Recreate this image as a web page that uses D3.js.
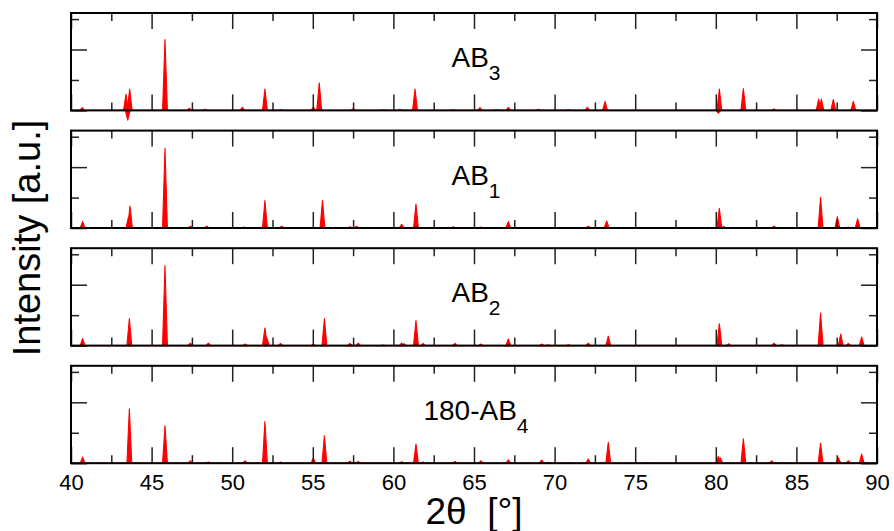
<!DOCTYPE html>
<html><head><meta charset="utf-8">
<script src="https://cdn.jsdelivr.net/npm/d3@7/dist/d3.min.js"></script>
<style>
body{margin:0;background:#fff}
svg{display:block}
text{font-family:"Liberation Sans",Arial,Helvetica,sans-serif;fill:#000}
</style>
</head><body>
<svg id="chart" width="894" height="531"></svg>
<script>
// ---- data (2θ in degrees, intensity in a.u.) ----
const labelMain = ["AB", "AB", "AB", "180-AB"];
const labelSub  = ["3", "1", "2", "4"];
const xMajorTicks = [40, 45, 50, 55, 60, 65, 70, 75, 80, 85, 90];
const xMinorTicks = [42.5, 47.5, 52.5, 57.5, 62.5, 67.5, 72.5, 77.5, 82.5, 87.5];
const yMajorTicks = [0, 2];
const yMinorTicks = [1, 3];

const peaksAB3 = [
  [40.70,0.09],[43.41,0.53],[43.52,-0.32],[43.64,0.70],[45.83,2.33],[47.34,0.07],[48.30,0.04],
  [50.63,0.10],[52.03,0.70],[53.00,0.03],[55.03,0.10],[55.40,0.91],[57.50,0.06],[59.40,0.02],
  [60.40,0.04],[61.34,0.70],[63.70,0.02],[65.37,0.09],[66.40,0.02],[67.13,0.10],[68.99,0.04],
  [70.85,0.03],[72.03,0.10],[73.13,0.30],[80.16,-0.09],[80.22,0.70],[81.71,0.72],[83.60,0.05],
  [86.38,0.37],[86.55,0.37],[87.29,0.36],[88.53,0.30]
];
const peaksAB1 = [
  [40.72,0.21],[43.56,0.35],[43.66,0.72],[45.83,2.62],[47.40,0.06],[48.42,0.06],[50.73,0.03],
  [52.03,0.90],[53.07,0.06],[55.60,0.90],[57.30,0.04],[57.72,0.06],[60.51,0.12],[61.40,0.79],
  [63.72,0.04],[65.43,0.03],[67.13,0.21],[72.09,0.06],[73.23,0.23],[80.22,0.65],[80.50,0.05],
  [83.61,0.06],[86.50,1.01],[87.54,0.37],[88.22,0.03],[88.80,0.30]
];
const peaksAB2 = [
  [40.72,0.23],[43.62,0.89],[45.83,2.63],[47.40,0.08],[48.52,0.08],[50.80,0.05],[52.03,0.58],
  [52.15,0.25],[53.00,0.07],[55.03,0.04],[55.72,0.89],[57.30,0.07],[57.82,0.08],[59.37,0.02],
  [60.51,0.08],[60.65,0.06],[61.40,0.82],[61.84,0.07],[63.82,0.07],[65.43,0.05],[67.13,0.22],
  [69.20,0.05],[69.60,0.03],[70.85,0.03],[72.09,0.08],[73.33,0.31],[80.22,0.72],[80.80,0.06],
  [83.61,0.08],[84.10,0.03],[86.50,1.07],[87.75,0.38],[88.22,0.07],[89.05,0.28]
];
const peaksAB4 = [
  [40.72,0.20],[43.62,1.79],[45.83,1.23],[47.40,0.08],[48.52,0.04],[50.80,0.08],[52.03,1.37],
  [53.00,0.04],[55.03,0.16],[55.72,0.90],[57.30,0.07],[57.82,0.06],[60.51,0.05],[61.40,0.63],
  [61.84,0.04],[63.82,0.06],[65.43,0.08],[67.13,0.11],[69.20,0.10],[69.60,0.03],[70.85,0.02],
  [72.09,0.14],[73.33,0.69],[75.71,0.02],[80.16,0.22],[80.28,0.18],[81.71,0.80],
  [83.47,0.08],[84.10,0.02],[86.50,0.66],[87.60,0.19],[88.22,0.08],[89.05,0.30]
];
const seriesPeaks = [peaksAB3, peaksAB1, peaksAB2, peaksAB4];

// ---- layout ----
const svg = d3.select("#chart");
const left = 71, right = 877;
const panelTop0 = 13, panelStep = 117.6, panelH = 97.4;
const halfWidth = 0.15; // peak half-width in degrees (style)

const x = d3.scaleLinear().domain([40, 90]).range([left, right]);

seriesPeaks.forEach((peaks, i) => {
  const top = panelTop0 + i * panelStep;
  const bottom = top + panelH;
  const y = d3.scaleLinear().domain([0, 3.2]).range([bottom, top]);
  const g = svg.append("g");

  // baseline
  g.append("line")
    .attr("x1", x(40)).attr("x2", x(90))
    .attr("y1", y(0)).attr("y2", y(0))
    .attr("stroke", "#ff0000").attr("stroke-width", 1.2);

  // peaks
  g.selectAll("path.peak").data(peaks).enter().append("path")
    .attr("class", "peak")
    .attr("d", d => `M${x(d[0]-halfWidth)},${y(0)}L${x(d[0])},${y(d[1])}L${x(d[0]+halfWidth)},${y(0)}Z`)
    .attr("fill", "#ff0000")
    .attr("stroke", "#ff0000")
    .attr("stroke-width", 1.1)
    .attr("stroke-linejoin", "round");

  // axes (inward ticks)
  const addAxis = (axis, tx, ty) => {
    const a = g.append("g").attr("transform", `translate(${tx},${ty})`).call(axis);
    a.select(".domain").remove();
    a.selectAll(".tick line").attr("stroke", "#222").attr("stroke-width", 1.5);
    return a;
  };
  const showLabels = i === seriesPeaks.length - 1;
  const bAx = addAxis(d3.axisBottom(x).tickValues(xMajorTicks).tickSize(-16)
      .tickFormat(showLabels ? d3.format("d") : () => "").tickPadding(11), 0, bottom);
  bAx.attr("font-size", null).attr("font-family", null);
  bAx.selectAll("text").style("font-size", "22px");
  addAxis(d3.axisBottom(x).tickValues(xMinorTicks).tickSize(-8).tickFormat(() => ""), 0, bottom);
  addAxis(d3.axisTop(x).tickValues(xMajorTicks).tickSize(-16).tickFormat(() => ""), 0, top);
  addAxis(d3.axisTop(x).tickValues(xMinorTicks).tickSize(-8).tickFormat(() => ""), 0, top);
  addAxis(d3.axisLeft(y).tickValues(yMajorTicks).tickSize(-16).tickFormat(() => ""), left, 0);
  addAxis(d3.axisLeft(y).tickValues(yMinorTicks).tickSize(-8).tickFormat(() => ""), left, 0);
  addAxis(d3.axisRight(y).tickValues(yMajorTicks).tickSize(-16).tickFormat(() => ""), right, 0);
  addAxis(d3.axisRight(y).tickValues(yMinorTicks).tickSize(-8).tickFormat(() => ""), right, 0);

  // frame
  g.append("rect")
    .attr("x", left).attr("y", top)
    .attr("width", right - left).attr("height", panelH)
    .attr("fill", "none").attr("stroke", "#000").attr("stroke-width", 2);

  // panel label
  const t = g.append("text")
    .attr("x", 476).attr("y", top + 54)
    .attr("text-anchor", "middle")
    .style("font-size", "28px");
  t.append("tspan").text(labelMain[i]);
  t.append("tspan").attr("dy", 13).style("font-size", "21px").text(labelSub[i]);
});

// axis titles
svg.append("text")
  .attr("x", (left + right) / 2).attr("y", 524)
  .attr("text-anchor", "middle")
  .attr("xml:space", "preserve")
  .style("white-space", "pre")
  .style("font-size", "37px")
  .text("2θ  [°]");

svg.append("text")
  .attr("transform", "translate(40,238) rotate(-90)")
  .attr("text-anchor", "middle")
  .style("font-size", "38px")
  .text("Intensity [a.u.]");
</script>
</body></html>
